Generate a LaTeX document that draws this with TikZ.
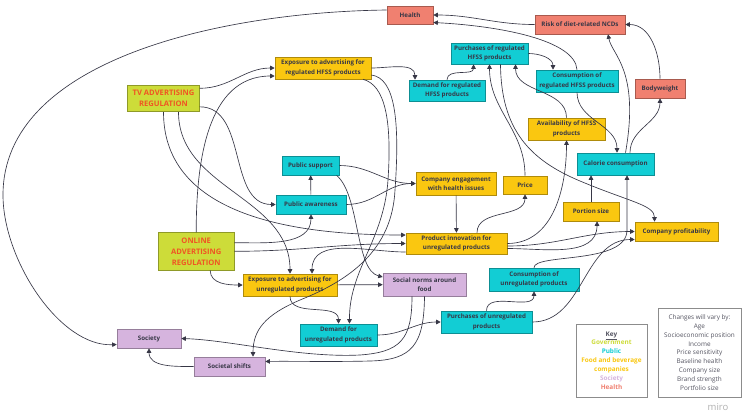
\documentclass[tikz,border=0pt]{standalone}
\usepackage{fontspec}
\setmainfont{Open Sans}
\definecolor{govt}{RGB}{205, 220, 57}
\definecolor{govttext}{RGB}{240, 85, 35}
\definecolor{public}{RGB}{18, 205, 212}
\definecolor{food}{RGB}{250, 199, 16}
\definecolor{society}{RGB}{214, 180, 222}
\definecolor{health}{RGB}{240, 128, 112}
\definecolor{darkgray}{RGB}{55, 55, 70}
\definecolor{keygray}{RGB}{140, 140, 140}
\usetikzlibrary{arrows.meta}
\newcommand{\diagfont}{\fontsize{6.2}{9.4}\selectfont\bfseries}
\newcommand{\regfont}{\fontsize{7.6}{11}\selectfont\bfseries}
\newcommand{\keyfont}{\fontsize{6.4}{8.9}\selectfont}
\tikzset{
    box/.style={
        rectangle, draw=#1!70!black, fill=#1, text=darkgray,
        font=\diagfont, align=center, line width=0.6pt, inner sep=1pt
    },
    regbox/.style={
        rectangle, draw=govt!70!black, fill=govt, text=govttext,
        font=\regfont, align=center, line width=0.8pt, inner sep=1pt
    },
    keybox/.style={
        rectangle, draw=keygray, fill=white, text=darkgray!85,
        font=\keyfont, align=center, line width=0.8pt
    },
    arrow/.style={-{Triangle[length=4.5pt, width=4.5pt]}, line width=0.65pt, color=darkgray}
}

\begin{document}
\begin{tikzpicture}[x=1pt, y=1pt]
    \fill[white] (0,0) rectangle (746,-416);
    \useasboundingbox (0,0) rectangle (746,-416);

    % Government nodes
    \node[regbox, minimum width=71.5pt, minimum height=26.7pt] (tv) at (163.5,-98.3) {TV ADVERTISING\\REGULATION};
    \node[regbox, minimum width=75.7pt, minimum height=37.3pt] (online) at (196.2,-251.3) {ONLINE\\ADVERTISING\\REGULATION};

    % Food and beverage companies
    \node[box=food, minimum width=96pt, minimum height=22pt] (expreg) at (323,-68) {Exposure to advertising for\\regulated HFSS products};
    \node[box=food, minimum width=77pt, minimum height=22pt] (avail) at (566.5,-129) {Availability of HFSS\\products};
    \node[box=food, minimum width=44pt, minimum height=18pt] (price) at (525,-185) {Price};
    \node[box=food, minimum width=56pt, minimum height=19pt] (portion) at (591,-211.5) {Portion size};
    \node[box=food, minimum width=83pt, minimum height=19pt] (profit) at (676.5,-231.5) {Company profitability};
    \node[box=food, minimum width=80pt, minimum height=23pt] (compeng) at (456,-183.5) {Company engagement\\with health issues};
    \node[box=food, minimum width=101pt, minimum height=21pt] (prodinnov) at (456.5,-243.5) {Product innovation for\\unregulated products};
    \node[box=food, minimum width=94pt, minimum height=22pt] (expunreg) at (290,-285) {Exposure to advertising for\\unregulated products};

    % Public
    \node[box=public, minimum width=76pt, minimum height=21pt] (demreg) at (447,-90.5) {Demand for regulated\\HFSS products};
    \node[box=public, minimum width=77pt, minimum height=21pt] (purchreg) at (489.5,-53.5) {Purchases of regulated\\HFSS products};
    \node[box=public, minimum width=82pt, minimum height=22pt] (consreg) at (577,-81) {Consumption of\\regulated HFSS products};
    \node[box=public, minimum width=77pt, minimum height=22pt] (calorie) at (615.5,-164) {Calorie consumption};
    \node[box=public, minimum width=57pt, minimum height=19pt] (pubsup) at (310.5,-165.5) {Public support};
    \node[box=public, minimum width=70pt, minimum height=19pt] (pubaware) at (311,-204.5) {Public awareness};
    \node[box=public, minimum width=90pt, minimum height=23pt] (consunreg) at (534,-279.5) {Consumption of\\unregulated products};
    \node[box=public, minimum width=91pt, minimum height=22pt] (purchunreg) at (486.5,-322) {Purchases of unregulated\\products};
    \node[box=public, minimum width=77pt, minimum height=22pt] (demunreg) at (338.5,-335) {Demand for\\unregulated products};

    % Society
    \node[box=society, minimum width=83pt, minimum height=23pt] (socnorms) at (424.5,-284.5) {Social norms around\\food};
    \node[box=society, minimum width=64pt, minimum height=19pt] (society) at (149,-338.5) {Society};
    \node[box=society, minimum width=71pt, minimum height=19pt] (socshifts) at (229.5,-366.5) {Societal shifts};

    % Health
    \node[box=health, minimum width=46pt, minimum height=18pt] (health) at (410,-15) {Health};
    \node[box=health, minimum width=90pt, minimum height=19pt] (risk) at (580,-24.5) {Risk of diet-related NCDs};
    \node[box=health, minimum width=50pt, minimum height=19pt] (bodyw) at (660,-88.5) {Bodyweight};

    % Key and notes
    \node[keybox, font=\keyfont\bfseries, minimum width=71pt, minimum height=73pt] (key) at (611.5,-360.5)
        {\underline{Key}\\\textcolor{govt}{Government}\\\textcolor{public}{Public}\\\textcolor{food}{Food and beverage}\\\textcolor{food}{companies}\\\textcolor{society}{Society}\\\textcolor{health}{Health}};
    \node[keybox, minimum width=83pt, minimum height=89pt] (changes) at (699.5,-352.5)
        {Changes will vary by:\\Age\\Socioeconomic position\\Income\\Price sensitivity\\Baseline health\\Company size\\Brand strength\\Portfolio size};
    \node[font=\fontsize{9.5}{11}\selectfont, text=black!30] (miro) at (718,-407) {miro};

    % Regulation arrows
    \draw[arrow] ([yshift=10pt]tv.east) to[out=0, in=180] (expreg.west);
    \draw[arrow] (online.north) to[out=90, in=180] ([yshift=-8pt]expreg.west);
    \draw[arrow] ([yshift=-8.5pt]tv.east) to[out=0, in=180] (pubaware.west);
    \draw[arrow] (tv.south) to[out=-90, in=180] ([yshift=8.5pt]prodinnov.west);
    \draw[arrow] ([xshift=15pt]tv.south) to[out=-90, in=90] (expunreg.north);
    \draw[arrow] ([yshift=8.6pt]online.east) to[out=0, in=-90] (pubaware.south);
    \draw[arrow] (online.east) to[out=0, in=180] (prodinnov.west);
    \draw[arrow] ([xshift=14pt]online.south) to[out=-90, in=180] (expunreg.west);

    % Regulated products
    \draw[arrow] (expreg.east) to[out=0, in=90] ([xshift=-32pt]demreg.north);
    \draw[arrow] ([xshift=40pt]expreg.south) .. controls (385,-85) and (392,-120) .. (388,-180)
        .. controls (384,-240) and (349,-270) .. ([xshift=11pt]demunreg.north);
    \draw[arrow] ([yshift=-7pt]expreg.east) .. controls (395,-78) and (400,-120) .. (395,-190)
        .. controls (392,-250) and (350,-280) .. (300,-300)
        .. controls (265,-315) and (253,-330) .. ([xshift=23.5pt]socshifts.north);
    \draw[arrow] (demreg.north) to[out=90, in=-90] ([xshift=-16pt]purchreg.south);
    \draw[arrow] (purchreg.east) to[out=0, in=90] ([xshift=-24pt]consreg.north);
    \draw[arrow] ([xshift=11pt]purchreg.south) .. controls (501,-130) and (530,-160) .. (580,-181)
        .. controls (630,-202) and (654.5,-205) .. ([xshift=-22pt]profit.north);
    \draw[arrow] (consreg.north) .. controls (575,-40) and (500,-26) .. ([yshift=-7.5pt]health.east);
    \draw[arrow] (consreg.south) to[out=-90, in=90] ([xshift=1.5pt]calorie.north);
    \draw[arrow] (avail.north) to[out=90, in=-90] ([xshift=26pt]purchreg.south);
    \draw[arrow] (price.north) to[out=90, in=-90] (purchreg.south);

    % Product innovation
    \draw[arrow] ([xshift=20.5pt]prodinnov.north) to[out=90, in=-90] (price.south);
    \draw[arrow] (prodinnov.east) to[out=0, in=-90] (avail.south);
    \draw[arrow] ([yshift=-2.5pt]prodinnov.east) to[out=0, in=180] (profit.west);
    \draw[arrow] ([yshift=-5pt]prodinnov.east) to[out=0, in=-90] ([xshift=6pt]portion.south);
    \draw[arrow] ([yshift=-8.5pt]prodinnov.west) to[out=180, in=90] ([xshift=22pt]expunreg.north);
    \draw[arrow] (compeng) -- (prodinnov);

    % Public
    \draw[arrow] (pubaware) -- (pubsup);
    \draw[arrow] (pubsup.east) to[out=0, in=180] (compeng.west);
    \draw[arrow] (pubaware.east) to[out=0, in=180] (compeng.west);
    \draw[arrow] ([xshift=26pt]pubsup.south) .. controls (360,-195) and (355,-270) .. ([yshift=7.5pt]socnorms.west);

    % Unregulated products
    \draw[arrow] (expunreg) -- (socnorms);
    \draw[arrow] (expunreg.south) to[out=-90, in=90] (demunreg.north);
    \draw[arrow] (demunreg.east) to[out=0, in=180] (purchunreg.west);
    \draw[arrow] (purchunreg.north) to[out=90, in=-90] (consunreg.south);
    \draw[arrow] (purchunreg.east) to[out=0, in=180] ([yshift=-8pt]profit.west);
    \draw[arrow] (consunreg.north) .. controls (534,-253) and (627,-265) .. (627,-230) -- ([xshift=11.5pt]calorie.south);

    % Health outcomes
    \draw[arrow] (portion.north) -- (portion.north |- calorie.south);
    \draw[arrow] ([xshift=14.5pt]calorie.north) to[out=90, in=-90] (bodyw.south);
    \draw[arrow] ([xshift=10pt]calorie.north) .. controls (640,-70) and (612,-55) .. ([xshift=28pt]risk.south);
    \draw[arrow] (bodyw.north) to[out=90, in=0] (risk.east);
    \draw[arrow] (risk.west) to[out=180, in=0] (health.east);
    \draw[arrow] ([yshift=5pt]health.west) .. controls (220,-12) and (3,-60) .. (3,-195)
        .. controls (3,-260) and (60,-347) .. ([yshift=-6pt]society.west);

    % Society
    \draw[arrow] ([xshift=-12.5pt]socnorms.south) .. controls (412,-340) and (400,-352) .. (360,-355)
        .. controls (300,-358) and (230,-340) .. (society.east);
    \draw[arrow] (socnorms.south) .. controls (424,-345) and (412,-360) .. (370,-361)
        .. controls (330,-362) and (290,-361) .. ([yshift=5pt]socshifts.east);
    \draw[arrow] (socshifts.west) to[out=180, in=-90] (society.south);

\end{tikzpicture}
\end{document}
